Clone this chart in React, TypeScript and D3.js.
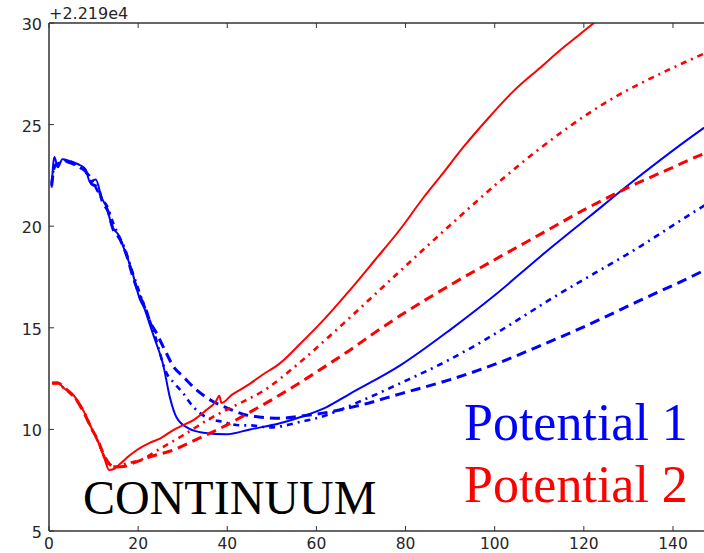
import React from "react";
import * as d3 from "d3";

// Energy offset shown above the axis (values are relative to it)
const offsetLabel = "+2.219e4";

const xTicks = [0, 20, 40, 60, 80, 100, 120, 140];
const yTicks = [5, 10, 15, 20, 25, 30];

// Potential 1 (blue)
const p1SolidX = [0.6, 1.2, 2, 3, 4.7, 6, 7, 8.2, 9.2, 10.5, 11.8, 13, 14.1, 15.5, 17, 18.6, 20.4, 21.5, 22.7, 23.8, 25.6, 27.1, 28.6, 31.3, 34.6, 39.9, 45.1, 51.8, 56.3, 62.3, 67.5, 78.8, 90, 100, 110.2, 121.4, 130.4, 146.7, 148];
const p1SolidY = [21.9, 23.4, 22.9, 23.3, 23.2, 23.1, 23.0, 22.8, 22.2, 22.3, 21.4, 20.9, 20.0, 19.6, 18.8, 17.8, 16.4, 15.9, 15.1, 14.4, 13.2, 11.6, 10.6, 10.05, 9.84, 9.76, 10.0, 10.3, 10.6, 11.1, 11.75, 13.15, 14.9, 16.6, 18.5, 20.5, 22.1, 24.8, 25.0];

const p1DashX = [0.6, 1.2, 2.2, 3.5, 5, 7, 8.5, 9.5, 11, 12, 13.3, 14.3, 15.8, 17.2, 19, 20.5, 21.6, 22.5, 24.2, 26, 27.9, 30.1, 33.1, 36.9, 40, 44.4, 51.8, 56.3, 60, 70, 78.8, 90, 101.2, 110, 120, 132.6, 146.7, 148];
const p1DashY = [22.0, 22.9, 23.1, 23.2, 23.1, 22.9, 22.6, 22.1, 21.9, 21.2, 20.7, 19.9, 19.4, 18.7, 17.4, 16.5, 16.0, 15.4, 14.7, 13.9, 13.1, 12.6, 11.94, 11.36, 11.05, 10.7, 10.55, 10.65, 10.75, 11.2, 11.75, 12.45, 13.3, 14.1, 15.05, 16.35, 17.8, 17.95];

const p1DashDotX = [0.6, 1.3, 2.5, 4, 6, 8, 9, 10.5, 12, 13, 14.5, 15.5, 17, 18.5, 21, 23.5, 26.4, 28, 30.1, 32.4, 33.9, 36.9, 38.4, 42.9, 45.1, 49.6, 57, 60, 70, 78.8, 90, 101.2, 113.2, 132.6, 146, 148];
const p1DashDotY = [22.1, 23.0, 23.1, 23.25, 23.05, 22.7, 22.5, 21.9, 21.3, 21.0, 20.1, 19.6, 18.9, 17.9, 16.3, 14.8, 12.76, 12.3, 11.78, 11.1, 10.8, 10.46, 10.4, 10.2, 10.2, 10.1, 10.4, 10.55, 11.4, 12.27, 13.45, 14.85, 16.5, 19.0, 20.88, 21.15];

// Potential 2 (red)
const p2SolidX = [0.7, 1.9, 3.5, 5, 6.3, 8, 9.4, 11, 12.3, 13.5, 14.5, 16.1, 18, 19.8, 22.7, 25, 27.9, 30, 32.4, 35, 37.5, 38.2, 38.7, 41, 44.4, 48, 51.8, 56.3, 62.3, 67.5, 73, 78.8, 84, 88, 93, 98.9, 104, 110.2, 116, 121.4, 126];
const p2SolidY = [12.27, 12.3, 12.0, 11.8, 11.45, 10.8, 10.13, 9.4, 8.66, 8.0, 8.05, 8.33, 8.7, 9.0, 9.35, 9.56, 9.97, 10.2, 10.46, 10.9, 11.4, 11.65, 11.3, 11.7, 12.15, 12.7, 13.25, 14.2, 15.55, 16.85, 18.3, 19.85, 21.4, 22.5, 23.9, 25.4, 26.6, 27.8, 28.9, 29.85, 30.7];

const p2DashX = [0.7, 1.9, 3.5, 6.3, 8, 9.4, 11, 12.3, 13.8, 15, 16.8, 19, 22.8, 27.9, 33, 39.1, 45.1, 50.3, 56.3, 62.3, 67.5, 73, 78.8, 90, 101.2, 110.2, 120, 130.4, 140, 146.8, 148];
const p2DashY = [12.25, 12.3, 12.05, 11.4, 10.75, 10.1, 9.45, 8.75, 8.25, 8.15, 8.17, 8.35, 8.66, 8.99, 9.5, 10.13, 10.85, 11.5, 12.3, 13.15, 13.9, 14.75, 15.6, 17.1, 18.5, 19.6, 20.8, 21.95, 22.9, 23.55, 23.65];

const p2DashDotX = [0.7, 1.9, 3.5, 6.3, 8, 9.4, 11, 12.3, 13.8, 15, 17, 20.6, 24.7, 30, 36.9, 42, 48.1, 56.3, 63, 67.5, 78.8, 90, 100, 110, 125, 140, 147, 148];
const p2DashDotY = [12.3, 12.25, 12.0, 11.4, 10.8, 10.1, 9.4, 8.7, 8.2, 8.17, 8.3, 8.5, 9.02, 9.7, 10.63, 11.2, 11.9, 13.3, 14.6, 15.5, 17.8, 20.05, 22.0, 23.8, 26.1, 27.8, 28.5, 28.6];

const labels = {
  continuum: "CONTINUUM",
  potential1: "Potential 1",
  potential2: "Potential 2",
};

const W = 704;
const H = 553;
const left = 49;
const top = 23;
const bottom = 531;
const pxPerUnit = 4.457;

const BLUE = "#0000ff";
const RED = "#ff0000";
const AXIS = "#333333";
const TICK_TEXT = "#262626";

function zip(xs: number[], ys: number[]): [number, number][] {
  return xs.map((x, i) => [x, ys[i]]);
}

export default function App() {
  const x = d3.scaleLinear().domain([0, 150]).range([left, left + 150 * pxPerUnit]);
  const y = d3.scaleLinear().domain([5, 30]).range([bottom, top]);

  const line = d3
    .line<[number, number]>()
    .x((d) => x(d[0]))
    .y((d) => y(d[1]))
    .curve(d3.curveMonotoneX);

  const series = [
    { data: zip(p1DashX, p1DashY), color: BLUE, width: 3, dash: "10,6" },
    { data: zip(p1DashDotX, p1DashDotY), color: BLUE, width: 2.6, dash: "6,5,2,5" },
    { data: zip(p1SolidX, p1SolidY), color: BLUE, width: 2, dash: undefined },
    { data: zip(p2DashX, p2DashY), color: RED, width: 3, dash: "10,6" },
    { data: zip(p2DashDotX, p2DashDotY), color: RED, width: 2.6, dash: "6,5,2,5" },
    { data: zip(p2SolidX, p2SolidY), color: RED, width: 2, dash: undefined },
  ];

  const tickLen = 5;
  const right = x(150);

  return (
    <svg
      width={W}
      height={H}
      style={{ position: "absolute", left: 0, top: 0, background: "#ffffff" }}
    >
      <defs>
        <clipPath id="plot-area">
          <rect x={left} y={top} width={right - left} height={bottom - top} />
        </clipPath>
      </defs>

      <g clipPath="url(#plot-area)">
        {series.map((s, i) => (
          <path
            key={i}
            d={line(s.data) || ""}
            fill="none"
            stroke={s.color}
            strokeWidth={s.width}
            strokeDasharray={s.dash}
            strokeLinejoin="round"
          />
        ))}
      </g>

      {/* spines */}
      <line x1={left} x2={left} y1={top} y2={bottom} stroke={AXIS} strokeWidth={1.5} />
      <line x1={left} x2={right} y1={top} y2={top} stroke={AXIS} strokeWidth={1.5} />
      <line x1={left} x2={right} y1={bottom} y2={bottom} stroke={AXIS} strokeWidth={1.5} />

      {/* x ticks (inward, bottom and top) */}
      {xTicks.map((t) => (
        <g key={`x${t}`}>
          <line x1={x(t)} x2={x(t)} y1={bottom} y2={bottom - tickLen} stroke={AXIS} strokeWidth={1} />
          <line x1={x(t)} x2={x(t)} y1={top} y2={top + tickLen} stroke={AXIS} strokeWidth={1} />
          <text
            x={x(t)}
            y={549}
            textAnchor="middle"
            fontFamily="DejaVu Sans"
            fontSize={15.5}
            fill={TICK_TEXT}
          >
            {t}
          </text>
        </g>
      ))}

      {/* y ticks */}
      {yTicks.map((t) => (
        <g key={`y${t}`}>
          <line x1={left} x2={left + tickLen} y1={y(t)} y2={y(t)} stroke={AXIS} strokeWidth={1} />
          <text
            x={42}
            y={y(t) + 7}
            textAnchor="end"
            fontFamily="DejaVu Sans"
            fontSize={16}
            fill={TICK_TEXT}
          >
            {t}
          </text>
        </g>
      ))}

      <text x={49} y={19} fontFamily="DejaVu Sans" fontSize={16} fill={TICK_TEXT}>
        {offsetLabel}
      </text>

      {/* annotations */}
      <text x={83} y={514} fontFamily="Liberation Serif" fontSize={48} fill="#000000">
        {labels.continuum}
      </text>
      <text x={464} y={440} fontFamily="Liberation Serif" fontSize={52} fill={BLUE}>
        {labels.potential1}
      </text>
      <text x={464} y={502} fontFamily="Liberation Serif" fontSize={52} fill={RED}>
        {labels.potential2}
      </text>
    </svg>
  );
}
